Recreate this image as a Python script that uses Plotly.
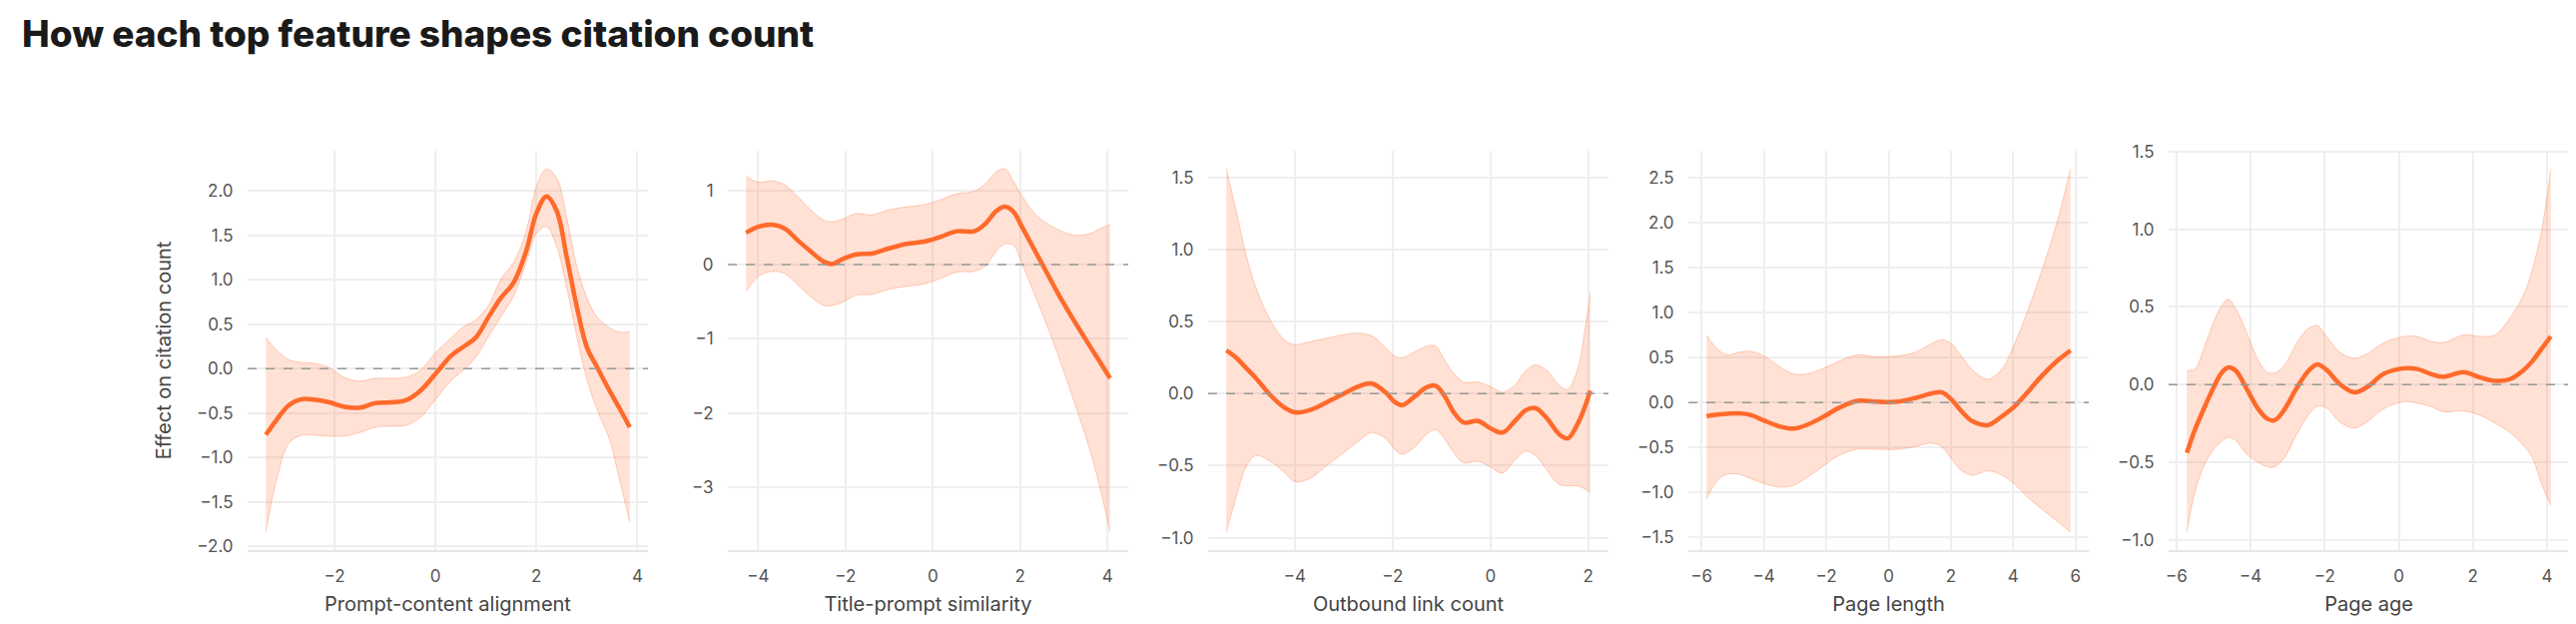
import plotly.graph_objects as go
from plotly.subplots import make_subplots

# Feature names (x-axis titles)
features = ['Prompt-content alignment', 'Title-prompt similarity', 'Outbound link count',
            'Page length', 'Page age']

# Panel 1: Prompt-content alignment
p1_x = [-3.36, -3.15, -2.9, -2.65, -2.4, -2.1, -1.8, -1.5, -1.2, -0.9, -0.6, -0.3, 0.0, 0.3, 0.55,
        0.8, 1.05, 1.3, 1.55, 1.8, 2.0, 2.2, 2.4, 2.6, 2.8, 3.0, 3.2, 3.45, 3.65, 3.85]
p1_eff = [-0.745, -0.58, -0.41, -0.345, -0.35, -0.38, -0.43, -0.44, -0.39, -0.38, -0.36, -0.25, -0.06,
          0.14, 0.245, 0.35, 0.58, 0.80, 0.97, 1.33, 1.75, 1.94, 1.78, 1.26, 0.70, 0.24, 0.02, -0.25,
          -0.45, -0.66]
p1_hi = [0.35, 0.21, 0.10, 0.07, 0.06, 0.01, -0.10, -0.14, -0.11, -0.11, -0.10, -0.02, 0.18, 0.34,
         0.47, 0.55, 0.71, 1.01, 1.20, 1.55, 2.05, 2.25, 2.15, 1.70, 1.15, 0.80, 0.58, 0.46, 0.41, 0.42]
p1_lo = [-1.84, -1.26, -0.84, -0.75, -0.75, -0.76, -0.76, -0.72, -0.66, -0.65, -0.64, -0.55, -0.35,
         -0.14, -0.02, 0.13, 0.36, 0.59, 0.82, 1.20, 1.52, 1.60, 1.38, 0.92, 0.36, -0.12, -0.46, -0.80,
         -1.26, -1.73]

# Panel 2: Title-prompt similarity
p2_x = [-4.28, -4.0, -3.7, -3.4, -3.1, -2.8, -2.5, -2.3, -2.05, -1.75, -1.4, -1.0, -0.6, -0.2, 0.15,
        0.55, 0.95, 1.2, 1.45, 1.65, 1.85, 2.05, 2.3, 2.55, 2.85, 3.2, 3.6, 3.85, 4.06]
p2_eff = [0.43, 0.51, 0.54, 0.49, 0.33, 0.18, 0.04, 0.01, 0.08, 0.14, 0.15, 0.22, 0.28, 0.31, 0.37,
          0.45, 0.45, 0.55, 0.72, 0.78, 0.71, 0.50, 0.23, -0.04, -0.37, -0.72, -1.10, -1.33, -1.53]
p2_hi = [1.19, 1.11, 1.13, 1.08, 0.92, 0.74, 0.60, 0.58, 0.62, 0.69, 0.67, 0.74, 0.78, 0.81, 0.87,
         0.955, 0.99, 1.09, 1.25, 1.29, 1.12, 0.92, 0.71, 0.58, 0.48, 0.40, 0.42, 0.49, 0.54]
p2_lo = [-0.36, -0.16, -0.09, -0.12, -0.27, -0.43, -0.55, -0.55, -0.50, -0.41, -0.40, -0.33, -0.29,
         -0.26, -0.19, -0.10, -0.09, -0.02, 0.18, 0.28, 0.26, 0.0, -0.36, -0.72, -1.19, -1.78, -2.50,
         -3.05, -3.60]

# Panel 3: Outbound link count
p3_x = [-5.4, -5.2, -5.0, -4.8, -4.5, -4.2, -4.0, -3.7, -3.35, -3.0, -2.7, -2.42, -2.15, -1.95, -1.8,
        -1.55, -1.3, -1.12, -0.95, -0.75, -0.55, -0.25, 0.0, 0.25, 0.5, 0.72, 0.92, 1.15, 1.4, 1.58,
        1.78, 1.92, 2.04]
p3_eff = [0.30, 0.25, 0.18, 0.11, -0.01, -0.10, -0.13, -0.115, -0.06, 0.0, 0.05, 0.07, 0.01, -0.06,
          -0.08, -0.02, 0.045, 0.055, -0.01, -0.13, -0.20, -0.19, -0.24, -0.27, -0.19, -0.115, -0.10,
          -0.17, -0.28, -0.31, -0.21, -0.10, 0.02]
p3_hi = [1.56, 1.27, 0.97, 0.74, 0.51, 0.37, 0.34, 0.36, 0.385, 0.41, 0.42, 0.40, 0.32, 0.26, 0.25,
         0.29, 0.33, 0.33, 0.24, 0.14, 0.08, 0.08, 0.05, 0.01, 0.06, 0.16, 0.20, 0.16, 0.06, 0.03,
         0.17, 0.42, 0.70]
p3_lo = [-0.96, -0.72, -0.51, -0.43, -0.47, -0.55, -0.61, -0.59, -0.50, -0.41, -0.33, -0.27, -0.31,
         -0.39, -0.42, -0.37, -0.28, -0.25, -0.31, -0.41, -0.48, -0.47, -0.51, -0.55, -0.46, -0.40,
         -0.43, -0.53, -0.63, -0.64, -0.64, -0.66, -0.685]

# Panel 4: Page length
p4_x = [-5.84, -5.5, -5.2, -4.8, -4.4, -4.0, -3.5, -3.05, -2.6, -2.1, -1.6, -1.0, -0.4, 0.3, 0.85,
        1.35, 1.7, 2.0, 2.35, 2.7, 3.2, 3.65, 4.05, 4.45, 4.9, 5.4, 5.84]
p4_eff = [-0.15, -0.135, -0.125, -0.12, -0.14, -0.20, -0.265, -0.29, -0.245, -0.16, -0.06, 0.02,
          0.01, 0.01, 0.05, 0.10, 0.115, 0.04, -0.10, -0.21, -0.25, -0.15, -0.04, 0.11, 0.29, 0.46,
          0.58]
p4_hi = [0.75, 0.60, 0.53, 0.56, 0.57, 0.52, 0.40, 0.32, 0.32, 0.38, 0.46, 0.53, 0.51, 0.52, 0.56,
         0.65, 0.70, 0.66, 0.51, 0.36, 0.26, 0.38, 0.66, 1.01, 1.45, 2.00, 2.60]
p4_lo = [-1.07, -0.87, -0.80, -0.80, -0.85, -0.90, -0.94, -0.92, -0.83, -0.71, -0.59, -0.52, -0.52,
         -0.52, -0.49, -0.45, -0.49, -0.62, -0.76, -0.81, -0.76, -0.81, -0.91, -1.05, -1.18, -1.32,
         -1.44]

# Panel 5: Page age
p5_x = [-5.72, -5.5, -5.25, -5.0, -4.8, -4.6, -4.4, -4.1, -3.8, -3.55, -3.35, -3.1, -2.75, -2.45,
        -2.2, -1.95, -1.6, -1.2, -0.85, -0.4, 0.15, 0.5, 0.85, 1.2, 1.75, 2.2, 2.6, 3.0, 3.35, 3.6,
        3.85, 4.1]
p5_eff = [-0.44, -0.29, -0.15, -0.02, 0.07, 0.11, 0.09, -0.03, -0.155, -0.22, -0.23, -0.165, -0.02,
          0.085, 0.13, 0.095, 0.005, -0.05, -0.015, 0.07, 0.105, 0.10, 0.07, 0.05, 0.08, 0.045, 0.024,
          0.035, 0.09, 0.15, 0.23, 0.31]
p5_hi = [0.09, 0.10, 0.24, 0.40, 0.50, 0.55, 0.49, 0.33, 0.16, 0.08, 0.075, 0.12, 0.27, 0.36, 0.38,
         0.31, 0.21, 0.17, 0.20, 0.27, 0.31, 0.31, 0.28, 0.27, 0.32, 0.31, 0.32, 0.43, 0.57, 0.74,
         0.99, 1.39]
p5_lo = [-0.95, -0.69, -0.52, -0.42, -0.37, -0.34, -0.36, -0.45, -0.50, -0.53, -0.53, -0.475, -0.32,
         -0.20, -0.14, -0.15, -0.24, -0.28, -0.24, -0.155, -0.11, -0.12, -0.14, -0.175, -0.17, -0.20,
         -0.25, -0.31, -0.39, -0.47, -0.64, -0.78]

# x tick values per panel
p1_xticks = [-2, 0, 2, 4]
p2_xticks = [-4, -2, 0, 2, 4]
p3_xticks = [-4, -2, 0, 2]
p4_xticks = [-6, -4, -2, 0, 2, 4, 6]
p5_xticks = [-6, -4, -2, 0, 2, 4]

panels = [
    (p1_x, p1_eff, p1_hi, p1_lo, p1_xticks, 0.5),
    (p2_x, p2_eff, p2_hi, p2_lo, p2_xticks, 1),
    (p3_x, p3_eff, p3_hi, p3_lo, p3_xticks, 0.5),
    (p4_x, p4_eff, p4_hi, p4_lo, p4_xticks, 0.5),
    (p5_x, p5_eff, p5_hi, p5_lo, p5_xticks, 0.5),
]

ORANGE = '#FF6A2B'
BAND_FILL = 'rgba(255,106,43,0.2)'
BAND_EDGE = 'rgba(255,106,43,0.3)'
GRID = '#EFEFEF'
FONT = 'Inter, Roboto, sans-serif'

W, H = 2580, 625
ML, MR, MT, MB = 240, 15, 143, 82
PW, GAP = 401, 80
plot_w = W - ML - MR

fig = make_subplots(rows=1, cols=5)

for i, (xs, eff, hi, lo, xticks, dtick) in enumerate(panels):
    col = i + 1
    fig.add_trace(go.Scatter(x=xs, y=hi, mode='lines', line=dict(color=BAND_EDGE, width=1, shape='spline'),
                             hoverinfo='skip', showlegend=False), row=1, col=col)
    fig.add_trace(go.Scatter(x=xs, y=lo, mode='lines', line=dict(color=BAND_EDGE, width=1, shape='spline'),
                             fill='tonexty', fillcolor=BAND_FILL, hoverinfo='skip', showlegend=False),
                  row=1, col=col)
    fig.add_trace(go.Scatter(x=xs, y=eff, mode='lines', line=dict(color=ORANGE, width=4.5, shape='spline'),
                             name=features[i], showlegend=False), row=1, col=col)

    # 5% padding around the data, like the reference
    xmin, xmax = min(xs), max(xs)
    ymin, ymax = min(lo), max(hi)
    xpad = (xmax - xmin) * 0.05
    ypad = (ymax - ymin) * 0.05

    left = (i * (PW + GAP)) / plot_w
    right = (i * (PW + GAP) + PW) / plot_w
    fig.update_xaxes(domain=[left, right], range=[xmin - xpad, xmax + xpad], tickvals=xticks,
                     showgrid=True, gridcolor=GRID, gridwidth=1.5, zeroline=False,
                     showline=True, linecolor='#E6E6E6', linewidth=2,
                     ticks='outside', ticklen=10, tickcolor='rgba(0,0,0,0)',
                     tickfont=dict(size=17, color='#555555', family=FONT),
                     title=dict(text=features[i], font=dict(size=20, color='#444444', family=FONT), standoff=12),
                     row=1, col=col)
    fig.update_yaxes(range=[ymin - ypad, ymax + ypad], dtick=dtick,
                     tickformat='.1f' if dtick == 0.5 else 'd',
                     showgrid=True, gridcolor=GRID, gridwidth=1.5, zeroline=False, showline=False,
                     ticks='outside', ticklen=10, tickcolor='rgba(0,0,0,0)',
                     tickfont=dict(size=17, color='#555555', family=FONT),
                     row=1, col=col)

    # dashed zero reference line
    xref = 'x' if i == 0 else 'x%d' % col
    yref = 'y' if i == 0 else 'y%d' % col
    fig.add_shape(type='line', xref=xref + ' domain', yref=yref, x0=0, x1=1, y0=0, y1=0,
                  line=dict(color='#999999', width=1.5, dash='dash'))

fig.update_yaxes(title=dict(text='Effect on citation count', font=dict(size=20, color='#444444', family=FONT),
                            standoff=20), row=1, col=1)

fig.update_layout(
    width=W, height=H,
    margin=dict(l=ML, r=MR, t=MT, b=MB),
    plot_bgcolor='white', paper_bgcolor='white',
    title=dict(text='How each top feature shapes citation count',
               font=dict(size=37, color='#1A1A1A', family=FONT, weight=800),
               x=14 / W, xanchor='left', xref='container',
               y=1 - 13 / H, yanchor='top', yref='container'),
)

fig.write_html('out.html')
